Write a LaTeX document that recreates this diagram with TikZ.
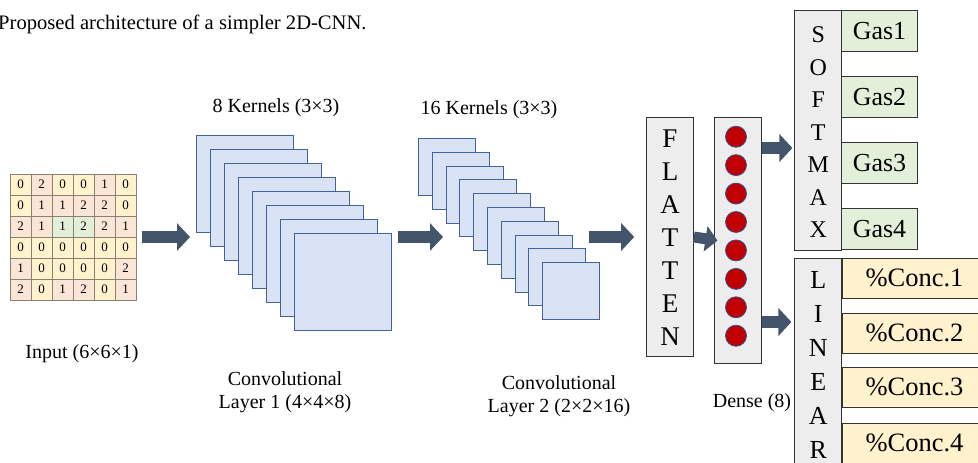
\documentclass[tikz,border=0pt]{standalone}
\usepackage{fontspec}
\setmainfont{Liberation Serif}
\usepackage{tikz}
\usetikzlibrary{arrows.meta,fit}

\definecolor{arrowblue}{HTML}{44546A}
\definecolor{fmapfill}{HTML}{DAE3F3}
\definecolor{fmapline}{HTML}{41629C}
\definecolor{boxgray}{HTML}{EDEDED}
\definecolor{neuronred}{HTML}{C00000}
\definecolor{neuronline}{HTML}{2F5597}
\definecolor{gasgreen}{HTML}{E2F0D9}
\definecolor{concyellow}{HTML}{FFF2CC}
\definecolor{cellyellow}{HTML}{FFF2CC}
\definecolor{cellpink}{HTML}{FBE5D6}
\definecolor{cellgreen}{HTML}{E2F0D9}
\definecolor{cellline}{HTML}{8A8172}

\newcommand{\fs}[2]{\fontsize{#1}{#2}\selectfont}

\begin{document}
\begin{tikzpicture}[x=1pt, y=-1pt,
    cellbox/.style={rectangle, draw=cellline, line width=0.8pt, minimum size=21pt, inner sep=0pt, font=\fs{13}{15}},
    fmap/.style={rectangle, draw=fmapline, fill=fmapfill, line width=1.1pt, anchor=north west, inner sep=0pt},
    layerbox/.style={rectangle, draw=black!80, fill=boxgray, line width=1pt, inner sep=0pt},
    neuron/.style={circle, draw=neuronline, fill=neuronred, line width=0.8pt, minimum size=21pt, inner sep=0pt},
    outbox/.style={rectangle, draw=black!80, line width=1pt, inner sep=0pt},
    blockarrow/.style={draw=arrowblue, line width=12pt, -{Triangle[length=13pt, width=27pt]}},
    lbl/.style={align=center, font=\fs{20}{23}}]
    \useasboundingbox (0,0) rectangle (978,463);
    \clip (0,0) rectangle (978,463);

    % caption
    \node (caption) [anchor=base west, font=\fs{20.6}{23}, inner sep=0pt] at (-2,30) {Proposed architecture of a simpler 2D-CNN.};

    % input grid
    \foreach \row [count=\r] in {{0,2,0,0,1,0},{0,1,1,2,2,0},{2,1,1,2,2,1},{0,0,0,0,0,0},{1,0,0,0,0,2},{2,0,1,2,0,1}} {
        \foreach \v [count=\c] in \row {
            \ifnum\v=0 \def\cf{cellyellow}\else\def\cf{cellpink}\fi
            \ifnum\r=3 \ifnum\c>2 \ifnum\c<5 \def\cf{cellgreen}\fi\fi\fi
            \node (cell-\r-\c) [cellbox, fill=\cf] at ({10+21*(\c-0.5)}, {174+21*(\r-0.5)}) {\v};
        }
    }
    \node (input) [fit=(cell-1-1)(cell-6-6), inner sep=0pt] {};
    \node (inlbl) [lbl] at (82,354) {Input (6×6×1)};

    % conv layer 1
    \foreach \i in {1,...,8}
        \node (c1-\i) [fmap, minimum size=97pt] at ({196+14*(\i-1)}, {135+14*(\i-1)}) {};
    \node (k1lbl) [lbl] at (276,108) {8 Kernels (3×3)};
    \node (c1lbl) [lbl] at (285,392) {Convolutional\\Layer 1 (4×4×8)};

    % conv layer 2
    \foreach \i in {1,...,10}
        \node (c2-\i) [fmap, minimum size=57pt] at ({round(418+13.8*(\i-1))}, {round(138+13.8*(\i-1))}) {};
    \node (k2lbl) [lbl] at (489,110) {16 Kernels (3×3)};
    \node (c2lbl) [lbl] at (559,396) {Convolutional\\Layer 2 (2×2×16)};

    % flatten and dense
    \node (flatten) [layerbox, minimum width=46.6pt, minimum height=239.4pt] at (670,237) {};
    \node (flattxt) [align=center, font=\fs{27}{33}] at (670,238) {F\\L\\A\\T\\T\\E\\N};
    \node (dense) [layerbox, minimum width=47pt, minimum height=246pt] at (737.5,240) {};
    \foreach \i in {1,...,8}
        \node (d\i) [neuron] at (736, {136.7+28.43*(\i-1)}) {};
    \node (denselbl) [lbl] at (752,403) {Dense (8)};

    % outputs
    \node (softmax) [layerbox, minimum width=46.7pt, minimum height=240pt] at (818.3,130) {};
    \node (softtxt) [align=center, font=\fs{24}{32.5}] at (818.3,132.5) {S\\O\\F\\T\\M\\A\\X};
    \node (linear) [layerbox, minimum width=46.7pt, minimum height=222pt] at (818.3,369) {};
    \node (lintxt) [align=center, font=\fs{26}{34}] at (818.3,365) {L\\I\\N\\E\\A\\R};
    \foreach \i/\y in {1/31, 2/97, 3/163, 4/229}
        \node (gas\i) [outbox, fill=gasgreen, minimum width=75.6pt, minimum height=41pt, font=\fs{26}{30}] at (879.5,\y) {Gas\i};
    \foreach \i/\y in {1/278, 2/333, 3/387, 4/443}
        \node (conc\i) [outbox, fill=concyellow, minimum width=145pt, minimum height=40pt, font=\fs{26.5}{30}] at (914.5,\y) {\%Conc.\i};

    % arrows
    \coordinate (o1) at (761,148);
    \coordinate (o2) at (761,322);
    \draw [blockarrow, shorten <=5pt, shorten >=6pt] (input.east) -- (input.east -| c1-1.west);
    \draw [blockarrow, shorten <=6pt, shorten >=3pt] (c1-8.east |- input.east) -- (c2-3.west |- input.east);
    \draw [blockarrow, shorten <=3pt, shorten >=12pt] (c2-9.east |- flatten.west) -- (flatten.west);
    \draw [blockarrow, line width=11pt, -{Triangle[length=12pt, width=25pt]}, shorten >=-4pt] (flatten.east) -- (dense.west);
    \draw [blockarrow, shorten <=1pt, shorten >=2pt] (o1) -- (o1 -| softmax.west);
    \draw [blockarrow, shorten <=1pt, shorten >=3pt] (o2) -- (o2 -| linear.west);
\end{tikzpicture}
\end{document}
